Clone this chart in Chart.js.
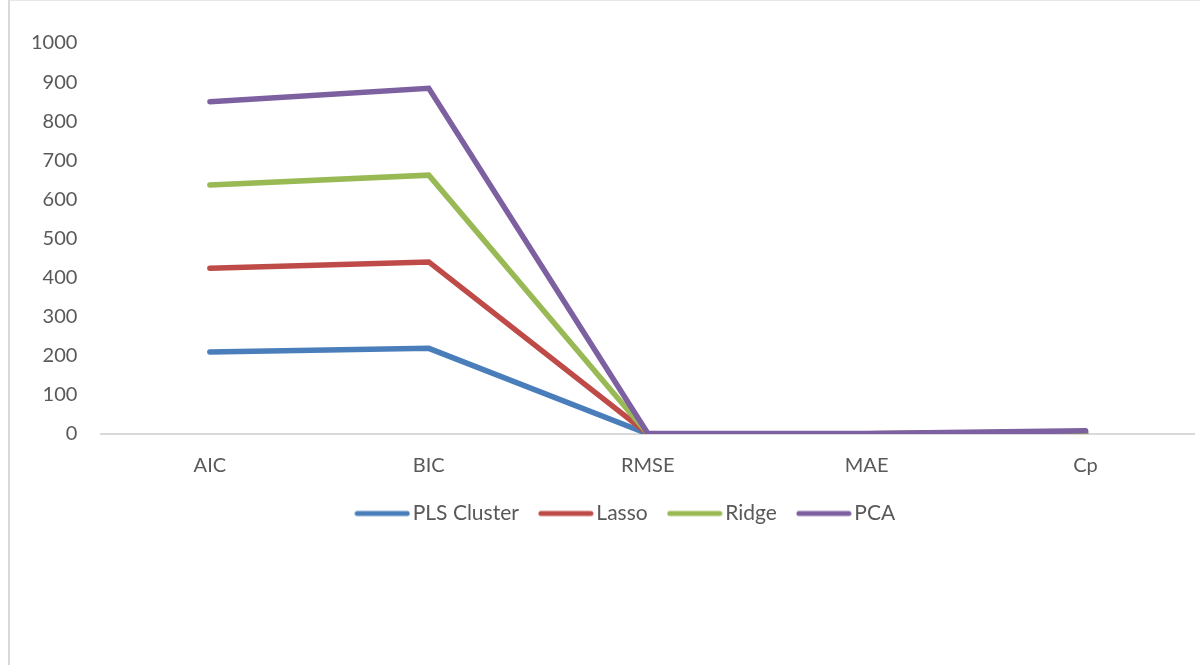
<!DOCTYPE html>
<html>
<head>
<meta charset="utf-8">
<script src="https://cdn.jsdelivr.net/npm/chart.js@4"></script>
<style>
  html, body { margin: 0; padding: 0; background: #fff; }
  #frame {
    position: absolute; left: 8px; top: 0; width: 1190px; height: 670px;
    border-left: 2px solid #d9d9d9; border-top: 1px solid #e6e6e6;
  }
  #wrap { position: absolute; left: 0; top: 0; width: 1202px; height: 544px; }
</style>
</head>
<body>
<div id="frame"></div>
<div id="wrap"><canvas id="chart"></canvas></div>
<script>
// categories and plotted (cumulative, as drawn) series values
const categories = ['AIC', 'BIC', 'RMSE', 'MAE', 'Cp'];
const plsCluster = [210, 219, 0.5, 0.3, 2];
const lasso = [424, 440, 1, 0.6, 4];
const ridge = [637, 662, 1.5, 0.9, 6];
const pca = [850, 884, 2, 1.2, 8];
const yTicks = [0, 100, 200, 300, 400, 500, 600, 700, 800, 900, 1000];

const seriesNames = ['PLS Cluster', 'Lasso', 'Ridge', 'PCA'];
const seriesData = [plsCluster, lasso, ridge, pca];
const seriesColors = ['#4a7ebb', '#be4b48', '#98b954', '#7d60a0'];

/*
** small canvas used as legend marker, line pushed right so it sits close to the text
*/
function legendMarker(color) {
  let c = document.createElement('canvas');
  c.width = 56;
  c.height = 8;
  let ctx = c.getContext('2d');
  ctx.strokeStyle = color;
  ctx.lineWidth = 5;
  ctx.lineCap = 'round';
  ctx.beginPath();
  ctx.moveTo(3, 4);
  ctx.lineTo(53, 4);
  ctx.stroke();
  return c;
}

/*
** builds one dataset per method, later series drawn on top
*/
function makeDataset(i) {
  return {
    label: seriesNames[i],
    data: seriesData[i],
    order: seriesNames.length - 1 - i,
    borderColor: seriesColors[i],
    backgroundColor: seriesColors[i],
    borderWidth: 5.5,
    borderCapStyle: 'round',
    borderJoinStyle: 'miter',
    pointRadius: 0,
    pointHoverRadius: 0,
    pointStyle: legendMarker(seriesColors[i]),
    tension: 0,
    fill: false
  };
}

// the legend sits centred under the plot area, not the whole canvas
const legendShift = {
  id: 'legendShift',
  afterLayout(chart) {
    let lg = chart.legend;
    let shift = (chart.chartArea.left + chart.chartArea.right) / 2 - (lg.left + lg.right) / 2 - 19;
    lg.left += shift;
    lg.right += shift;
  }
};

const axisFont = { family: 'Lato, "Open Sans", sans-serif', size: 20 };
const legendFont = { family: 'Lato, "Open Sans", sans-serif', size: 21 };

new Chart(document.getElementById('chart'), {
  type: 'line',
  data: {
    labels: categories,
    datasets: seriesNames.map((n, i) => makeDataset(i))
  },
  plugins: [legendShift],
  options: {
    responsive: true,
    maintainAspectRatio: false,
    animation: false,
    layout: { padding: { left: 8, right: 7, top: 43, bottom: 10 } },
    scales: {
      x: {
        offset: true,
        grid: { display: false },
        border: { display: false },
        ticks: { color: '#595959', font: axisFont, padding: 12 },
        afterFit: axis => { axis.height -= 14; }
      },
      y: {
        min: 0,
        max: 1000,
        afterBuildTicks: axis => { axis.ticks = yTicks.map(v => ({ value: v })); },
        grid: {
          color: ctx => ctx.tick && ctx.tick.value === 0 ? '#d9d9d9' : 'rgba(0,0,0,0)',
          lineWidth: 2,
          drawTicks: false
        },
        border: { display: false },
        ticks: { color: '#595959', font: axisFont, padding: 23, callback: v => String(v) }
      }
    },
    plugins: {
      tooltip: { enabled: false },
      legend: {
        position: 'bottom',
        labels: {
          color: '#595959',
          font: legendFont,
          usePointStyle: true,
          pointStyleWidth: 40,
          padding: 27,
          sort: (a, b) => a.datasetIndex - b.datasetIndex
        }
      }
    }
  }
});
</script>
</body>
</html>
